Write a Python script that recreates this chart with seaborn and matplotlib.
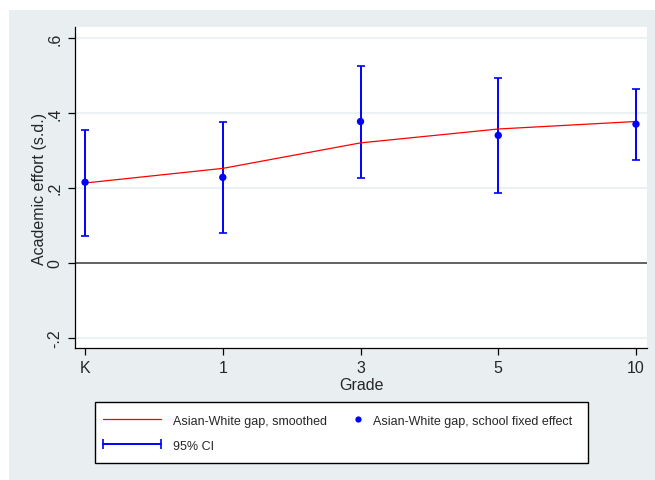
import matplotlib
matplotlib.use("Agg")
import matplotlib.pyplot as plt
from matplotlib.lines import Line2D
from matplotlib.patches import Rectangle
import numpy as np
import pandas as pd
import seaborn as sns

# values
grades = ["K", "1", "3", "5", "10"]
smoothed_gap = [0.213, 0.252, 0.320, 0.357, 0.377]
fixed_effect_gap = [0.215, 0.228, 0.377, 0.340, 0.370]
ci_low = [0.073, 0.079, 0.227, 0.186, 0.275]
ci_high = [0.355, 0.375, 0.526, 0.493, 0.463]
y_ticks = [-0.2, 0, 0.2, 0.4, 0.6]
y_tick_labels = ["-.2", "0", ".2", ".4", ".6"]

df = pd.DataFrame({
    "grade": grades,
    "smoothed": smoothed_gap,
    "fe": fixed_effect_gap,
    "lo": ci_low,
    "hi": ci_high,
})

sns.set_style("white")
plt.rcParams["font.family"] = ["Liberation Sans", "DejaVu Sans"]

BG = "#e9eff1"
W, H = 655, 481
fig = plt.figure(figsize=(W / 100, H / 100), dpi=100)
fig.patch.set_facecolor("white")
fig.patches.append(Rectangle((9 / W, 0), 1 - 9 / W, (H - 11) / H,
                             transform=fig.transFigure, facecolor=BG,
                             edgecolor="none", zorder=-10))

ax = fig.add_axes([75 / W, (H - 349) / H, (647 - 75) / W, (349 - 28) / H])
ax.set_facecolor("white")

for y in y_ticks:
    if y != 0:
        ax.axhline(y, color="#eaf2f3", lw=1.5, zorder=0)
ax.axhline(0, color="#555555", lw=1.3, zorder=1)

ax.errorbar(df["grade"], df["fe"],
            yerr=[df["fe"] - df["lo"], df["hi"] - df["fe"]],
            fmt="none", ecolor="#0000ff", elinewidth=1.4, capsize=2.6,
            capthick=1.2, zorder=2)
sns.lineplot(data=df, x="grade", y="smoothed", color="#ff0000", lw=0.9,
             sort=False, ax=ax, zorder=3)
sns.scatterplot(data=df, x="grade", y="fe", color="#0000ff", s=28,
                edgecolor="none", ax=ax, zorder=4)

ax.set_xlim(-0.073, 4.08)
ax.set_ylim(-0.227, 0.629)
ax.set_yticks(y_ticks)
ax.set_yticklabels(y_tick_labels, rotation=90, va="center")
ax.tick_params(axis="both", which="major", direction="out", length=5,
               width=0.9, color="black", labelsize=11.5, pad=4, left=True,
               bottom=True)
ax.set_xlabel("Grade", fontsize=11.5, labelpad=1)
ax.set_ylabel("Academic effort (s.d.)", fontsize=11.5, labelpad=0)
for side in ["top", "right"]:
    ax.spines[side].set_visible(False)
for side in ["left", "bottom"]:
    ax.spines[side].set_color("black")
    ax.spines[side].set_linewidth(0.9)

# legend frame
fig.patches.append(Rectangle((95 / W, (H - 464) / H), (588 - 95) / W,
                             (464 - 403) / H, transform=fig.transFigure,
                             facecolor="white", edgecolor="black", lw=1.0,
                             zorder=-5))

h_smooth = Line2D([], [], color="#ff0000", lw=0.9)
h_ci = Line2D([], [], color="#0000ff", lw=1.4, marker="|", markersize=7,
              markeredgewidth=1.2)
leg_a = fig.legend([h_smooth, h_ci], ["Asian-White gap, smoothed", "95% CI"],
                   loc="center left", bbox_to_anchor=(99 / W, (H - 434.2) / H),
                   frameon=False, borderpad=0, borderaxespad=0, numpoints=2,
                   handlelength=5.26, handletextpad=0.64, labelspacing=1.02,
                   fontsize=9)
h_dot = Line2D([], [], color="#0000ff", lw=0, marker="o", markersize=4.5,
               markeredgewidth=0)
leg_b = fig.legend([h_dot], ["Asian-White gap, school fixed effect"],
                   loc="center left", bbox_to_anchor=(351.5 / W, (H - 421.7) / H),
                   frameon=False, borderpad=0, borderaxespad=0, numpoints=1,
                   handlelength=1.0, handletextpad=0.7, fontsize=9)

fig.savefig("out.png", dpi=100)
